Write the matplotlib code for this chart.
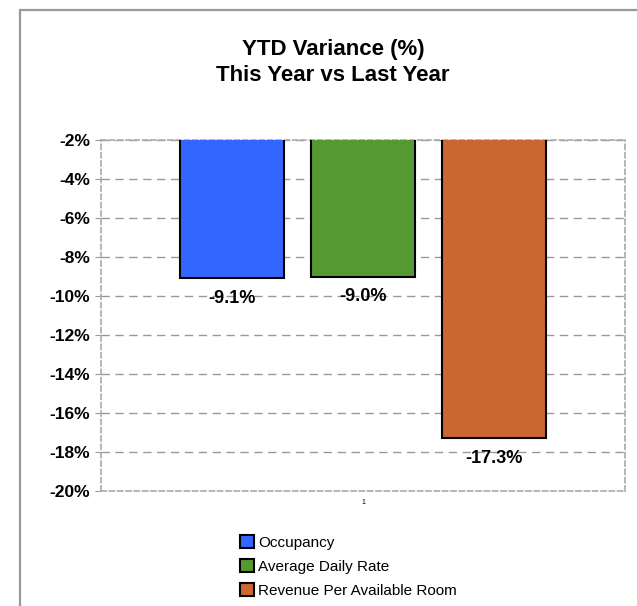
import matplotlib.pyplot as plt
from matplotlib.patches import Rectangle
from matplotlib.ticker import FuncFormatter

plt.rcParams['font.family'] = ['Liberation Sans', 'DejaVu Sans']

categories = ["Occupancy", "Average Daily Rate", "Revenue Per Available Room"]
values = [-9.1, -9.0, -17.3]
colors = ["#3366FF", "#559933", "#CC6633"]
y_ticks = [-20, -18, -16, -14, -12, -10, -8, -6, -4, -2]
x_label = "1"


def main():
    fig = plt.figure(figsize=(6.37, 6.06), dpi=100)
    ax = fig.add_axes([101 / 637, 1 - 491 / 606, 524 / 637, 351 / 606])

    # outer chart frame (runs off the right and bottom edges)
    fig.patches.append(Rectangle((20 / 637, -0.1), 1.2, 1 - 10 / 606 + 0.1,
                                 transform=fig.transFigure, fill=False,
                                 edgecolor="#999999", lw=1.6, zorder=0))

    xs = [0.25, 0.5, 0.75]
    for x, v, c, name in zip(xs, values, colors, categories):
        ax.bar(x, v, width=0.2, color=c, edgecolor="black", lw=1.5,
               label=name, zorder=3)
        ax.annotate("{:.1f}%".format(v), xy=(x, v), xytext=(0, -20),
                    textcoords="offset pixels", ha="center", va="center",
                    fontsize=13, fontweight="bold", zorder=4)

    ax.set_xlim(0, 1)
    ax.set_ylim(y_ticks[0], y_ticks[-1])
    ax.set_yticks(y_ticks)
    ax.yaxis.set_major_formatter(FuncFormatter(lambda v, _: "{:.0f}%".format(v)))
    ax.set_xticks([0.5])
    ax.set_xticklabels([x_label], fontsize=5)
    ax.tick_params(axis="x", length=0, pad=6)
    ax.tick_params(axis="y", length=4, color="#999999", labelsize=12.5, pad=4)
    for lab in ax.get_yticklabels():
        lab.set_fontweight("bold")

    ax.grid(axis="y", color="#999999", linestyle=(0, (6, 4)), lw=1, zorder=0)
    for s in ax.spines.values():
        s.set_color("#aaaaaa")
        s.set_linestyle((0, (3, 2)))
        s.set_linewidth(1.2)

    fig.text(333 / 637, 1 - 62.5 / 606, "YTD Variance (%)\nThis Year vs Last Year",
             ha="center", va="center", fontsize=16, fontweight="bold",
             linespacing=1.3)

    fig.legend(loc="upper left", bbox_to_anchor=(234 / 637, 1 - 529 / 606),
               frameon=False, fontsize=11, handlelength=0.9, handleheight=0.9,
               handletextpad=0.3, labelspacing=0.62, borderaxespad=0)

    fig.savefig("out.png", dpi=100)


if __name__ == "__main__":
    main()
